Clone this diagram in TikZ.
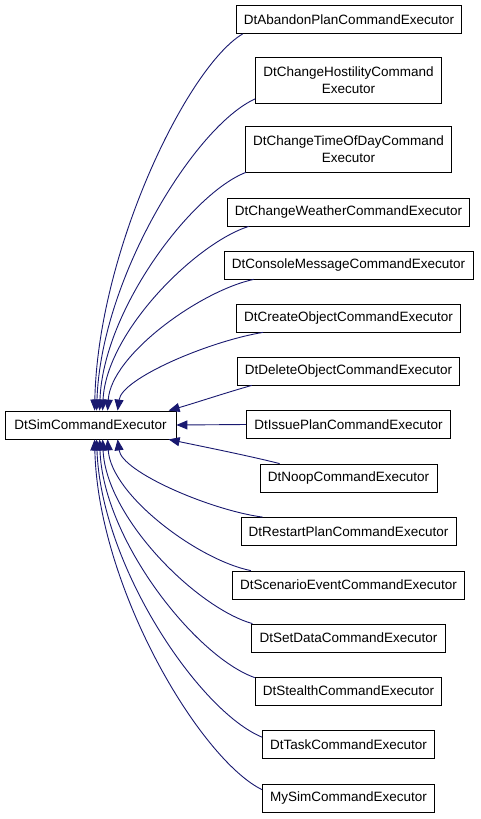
\documentclass[tikz,border=0pt]{standalone}
\usepackage{fontspec}
\setmainfont{Liberation Sans}
\usetikzlibrary{arrows.meta}
\definecolor{edgeblue}{HTML}{191970}
\begin{document}
\begin{tikzpicture}[x=1pt,y=-1pt,
  cls/.style={draw=black, fill=white, line width=0.8pt, inner xsep=7.8pt, inner ysep=0pt,
    minimum height=28pt, font=\fontsize{13.5}{17}\selectfont, align=center},
  tall/.style={minimum height=46pt},
  edge/.style={draw=edgeblue, line width=0.9pt, -{Triangle[length=11pt,width=9pt]}}
]
\fill[white] (0,0) rectangle (480,819);
\useasboundingbox (0,0) rectangle (480,819);

\node[cls, minimum width=171pt] (base) at (90.5,425) {DtSimCommandExecutor};

\node[cls] (n1) at (349,19.5) {DtAbandonPlanCommandExecutor};
\node[cls, tall] (n2) at (348.5,80.5) {DtChangeHostilityCommand\\Executor};
\node[cls, tall] (n3) at (348.5,149) {DtChangeTimeOfDayCommand\\Executor};
\node[cls] (n4) at (348.5,212) {DtChangeWeatherCommandExecutor};
\node[cls] (n5) at (348.5,265) {DtConsoleMessageCommandExecutor};
\node[cls] (n6) at (348.5,318) {DtCreateObjectCommandExecutor};
\node[cls] (n7) at (348.5,371) {DtDeleteObjectCommandExecutor};
\node[cls] (n8) at (348.5,424.5) {DtIssuePlanCommandExecutor};
\node[cls] (n9) at (348.5,478) {DtNoopCommandExecutor};
\node[cls] (n10) at (348.5,531.5) {DtRestartPlanCommandExecutor};
\node[cls] (n11) at (348.5,585) {DtScenarioEventCommandExecutor};
\node[cls] (n12) at (348.5,638) {DtSetDataCommandExecutor};
\node[cls] (n13) at (348.5,691) {DtStealthCommandExecutor};
\node[cls] (n14) at (348.5,744.5) {DtTaskCommandExecutor};
\node[cls] (n15) at (348.5,798) {MySimCommandExecutor};

% upper edges
\draw[edge] ([xshift=7pt]n1.south west) .. controls (188,66) and (98,250) .. ([xshift=90pt]base.north west);
\draw[edge] ([yshift=5pt]n2.south west) .. controls (195,126) and (101,278) .. ([xshift=92pt]base.north west);
\draw[edge] ([xshift=1pt]n3.south west) .. controls (192,193) and (103,310) .. ([xshift=95pt]base.north west);
\draw[edge] ([xshift=22pt]n4.south west) .. controls (196,243) and (106,332) .. ([xshift=98pt]base.north west);
\draw[edge] ([xshift=30pt]n5.south west) .. controls (200,291) and (111,355) .. ([xshift=103pt]base.north west);
\draw[edge] ([xshift=27pt]n6.south west) .. controls (210,341) and (122,378) .. ([xshift=113pt]base.north west);
\draw[edge] ([xshift=15pt]n7.south west) .. controls (225,393) and (195,403) .. ([xshift=164pt]base.north west);
\draw[edge] (n8.west) -- (base.east);
% lower edges
\draw[edge] ([xshift=20pt]n9.north west) .. controls (250,456) and (200,446) .. ([xshift=164pt]base.south west);
\draw[edge] ([xshift=22pt]n10.north west) .. controls (210,510) and (122,472) .. ([xshift=113pt]base.south west);
\draw[edge] ([xshift=19pt]n11.north west) .. controls (198,560) and (111,495) .. ([xshift=103pt]base.south west);
\draw[edge] ([xshift=1pt]n12.north west) .. controls (197,608) and (106,518) .. ([xshift=98pt]base.south west);
\draw[edge] ([yshift=-1pt]n13.north west) .. controls (196,657) and (103,540) .. ([xshift=95pt]base.south west);
\draw[edge] ([yshift=-7pt]n14.north west) .. controls (199,711) and (101,566) .. ([xshift=92pt]base.south west);
\draw[edge] ([yshift=-6pt]n15.north west) .. controls (200,759) and (98,588) .. ([xshift=90pt]base.south west);
\end{tikzpicture}
\end{document}
